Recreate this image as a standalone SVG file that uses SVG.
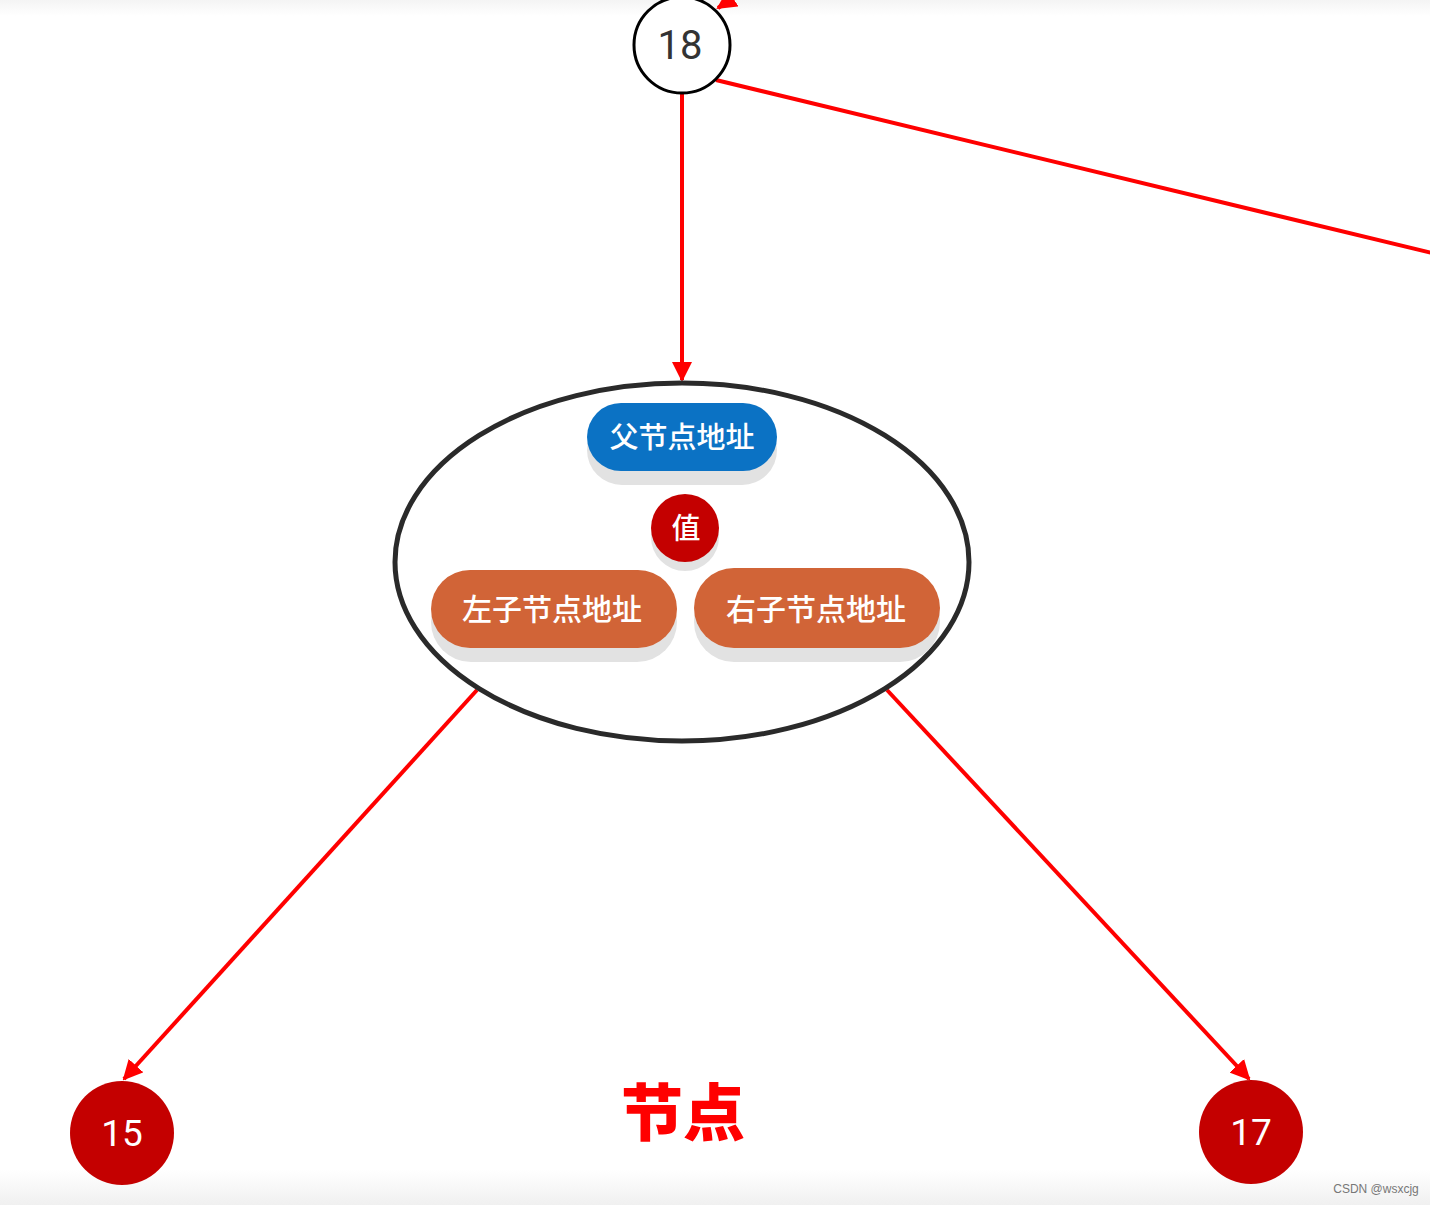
<svg xmlns="http://www.w3.org/2000/svg" width="1430" height="1205" viewBox="0 0 1430 1205">
<defs>
<marker id="arr" viewBox="0 0 10 10" refX="9" refY="5" markerWidth="5" markerHeight="5" orient="auto" markerUnits="strokeWidth">
<path d="M0,0 L10,5 L0,10 z" fill="#ff0000"/>
</marker>
<linearGradient id="bot" x1="0" y1="0" x2="0" y2="1">
<stop offset="0" stop-color="#ffffff"/>
<stop offset="1" stop-color="#f0f0f0"/>
</linearGradient>
<linearGradient id="top" x1="0" y1="0" x2="0" y2="1">
<stop offset="0" stop-color="#f4f4f4"/>
<stop offset="1" stop-color="#ffffff"/>
</linearGradient>
</defs>
<style>
.edge{stroke:#ff0000;stroke-width:4;fill:none}
.cn{font-family:"Noto Sans CJK SC","Noto Sans",sans-serif;font-weight:500;fill:#fff;text-anchor:middle}
.num{font-family:Roboto,"Liberation Sans",sans-serif;text-anchor:middle}
.shadow{fill:#e2e2e2}
</style>
<rect width="1430" height="1205" fill="#ffffff"/>
<rect x="0" y="0" width="1430" height="16" fill="url(#top)"/>
<rect x="0" y="1170" width="1430" height="35" fill="url(#bot)"/>
<g id="connectors">
<line class="edge" x1="760" y1="-20" x2="718" y2="8" marker-end="url(#arr)"/>
<line class="edge" x1="716" y1="80" x2="1432" y2="253"/>
<line class="edge" x1="682" y1="93" x2="682" y2="380" marker-end="url(#arr)"/>
<line class="edge" x1="477" y1="690" x2="124" y2="1079" marker-end="url(#arr)"/>
<line class="edge" x1="887" y1="690" x2="1249" y2="1079" marker-end="url(#arr)"/>
</g>
<g id="n18">
<circle cx="682" cy="45" r="48" fill="#fff" stroke="#000" stroke-width="3"/>
<text class="num" x="680" y="59" font-size="40" fill="#333">18</text>
</g>
<g id="node">
<ellipse cx="682" cy="562" rx="287" ry="179" fill="none" stroke="#2a2a2a" stroke-width="5"/>
<g id="parent">
<rect x="587" y="415" width="190" height="70" rx="35" class="shadow"/>
<rect x="587" y="403" width="190" height="68" rx="34" fill="#0b72c4"/>
<text class="cn" x="682" y="448" font-size="29">父节点地址</text>
</g>
<g id="value">
<circle cx="685" cy="537" r="34" class="shadow"/>
<circle cx="685" cy="528" r="34" fill="#c40000"/>
<text class="cn" x="686" y="539" font-size="29">值</text>
</g>
<g id="left">
<rect x="431" y="582" width="246" height="80" rx="40" class="shadow"/>
<rect x="431" y="570" width="246" height="78" rx="39" fill="#d16437"/>
<text class="cn" x="552" y="620" font-size="30">左子节点地址</text>
</g>
<g id="right">
<rect x="694" y="580" width="246" height="82" rx="40" class="shadow"/>
<rect x="694" y="568" width="246" height="80" rx="40" fill="#d16437"/>
<text class="cn" x="816" y="620" font-size="30">右子节点地址</text>
</g>
</g>
<g id="n15">
<circle cx="122" cy="1133" r="52" fill="#c40000"/>
<text class="num" x="122" y="1146" font-size="37" fill="#fff">15</text>
</g>
<g id="n17">
<circle cx="1251" cy="1132" r="52" fill="#c40000"/>
<text class="num" x="1251" y="1145" font-size="37" fill="#fff">17</text>
</g>
<g id="title">
<text x="683" y="1136" font-family="Noto Sans CJK SC,sans-serif" font-weight="900" font-size="62" fill="#ff0000" text-anchor="middle">节点</text>
</g>
<text x="1376" y="1193" font-family="Liberation Sans,sans-serif" font-size="12" fill="#777" text-anchor="middle">CSDN @wsxcjg</text>
</svg>
